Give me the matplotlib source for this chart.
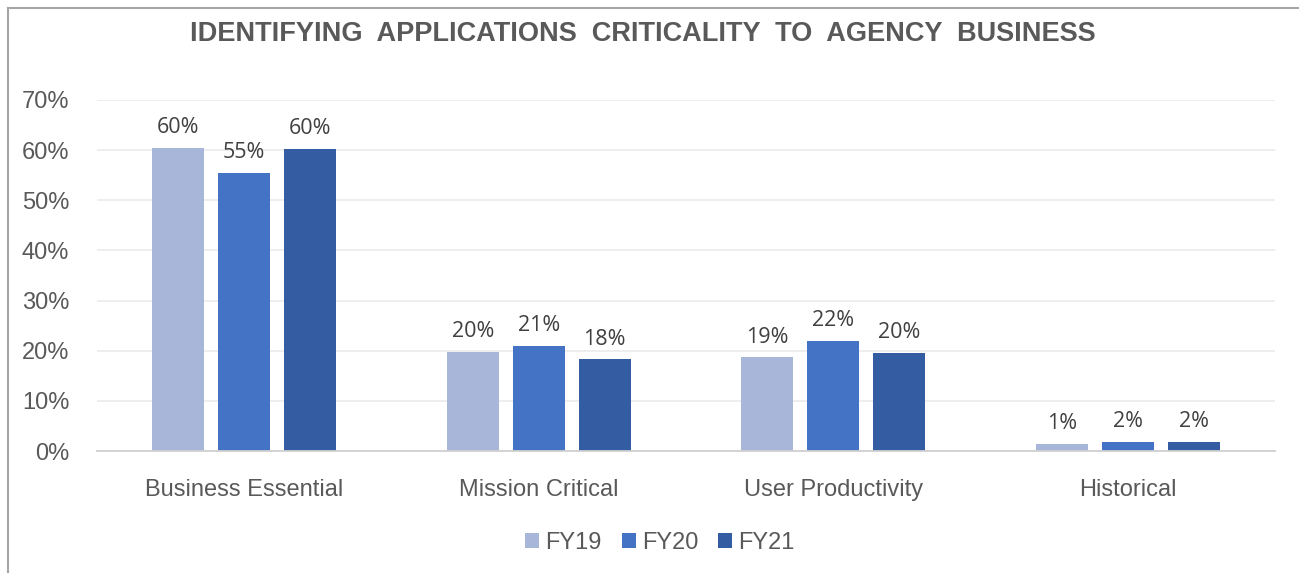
import matplotlib
matplotlib.use("Agg")
import numpy as np
import matplotlib.pyplot as plt
from matplotlib.lines import Line2D

categories = ["Business Essential", "Mission Critical", "User Productivity", "Historical"]
series_names = ["FY19", "FY20", "FY21"]
fy19 = [60.4, 19.7, 18.7, 1.4]
fy20 = [55.4, 20.9, 21.9, 1.8]
fy21 = [60.3, 18.3, 19.6, 1.8]
colors = ["#A8B6DA", "#4472C4", "#345CA2"]

txt = "#595959"
plt.rcParams['font.family'] = ['Liberation Sans', 'DejaVu Sans']

fig = plt.figure(figsize=(12.99, 5.73), dpi=100)
ax = fig.add_axes([97/1299, 1-451/573, 1178/1299, 351/573])

x = np.arange(len(categories))
w = 0.177
step = 0.224
for i, (vals, name, c) in enumerate(zip([fy19, fy20, fy21], series_names, colors)):
    bars = ax.bar(x + (i-1)*step, vals, width=w, color=c, label=name, zorder=3)
    for b, v in zip(bars, vals):
        ax.annotate("%d%%" % round(v), (b.get_x()+b.get_width()/2, b.get_height()),
                    xytext=(0, 7), textcoords="offset points", ha="center", va="bottom",
                    fontsize=15.5, color="#404040", family=["Open Sans", "DejaVu Sans"])

ax.set_xlim(-0.5, 3.5)
ax.set_ylim(0, 70)
ax.set_yticks(range(0, 71, 10))
ax.set_yticklabels(["%d%%" % t for t in range(0, 71, 10)])
ax.set_xticks(x)
ax.set_xticklabels(categories)
ax.tick_params(axis="both", length=0, labelsize=17, colors=txt)
ax.tick_params(axis="y", pad=20)
ax.tick_params(axis="x", pad=20)
ax.grid(axis="y", color="#EBEBEB", linewidth=1.2, zorder=0)
for s in ["top", "right", "left"]:
    ax.spines[s].set_visible(False)
ax.spines["bottom"].set_color("#D0D0D0")
ax.spines["bottom"].set_linewidth(1.3)
ax.spines["bottom"].set_zorder(4)

fig.text(643/1299, 1-34/573, "IDENTIFYING  APPLICATIONS  CRITICALITY  TO  AGENCY  BUSINESS",
         ha="center", va="center", fontsize=19.5, fontweight="bold", color=txt)

leg = fig.legend(loc="center", bbox_to_anchor=(660/1299, 1-543/573), ncol=3, frameon=False,
                 fontsize=17, handlelength=0.6, handleheight=0.6, handletextpad=0.25,
                 columnspacing=0.85)
for t in leg.get_texts():
    t.set_color(txt)

# border of the chart (only top and left visible in the crop)
fig.add_artist(Line2D([8/1299, 1], [1-8/573, 1-8/573], color="#A6A6A6", lw=1.5))
fig.add_artist(Line2D([8/1299, 8/1299], [0, 1-8/573], color="#A6A6A6", lw=1.5))

fig.savefig("out.png", dpi=100)
